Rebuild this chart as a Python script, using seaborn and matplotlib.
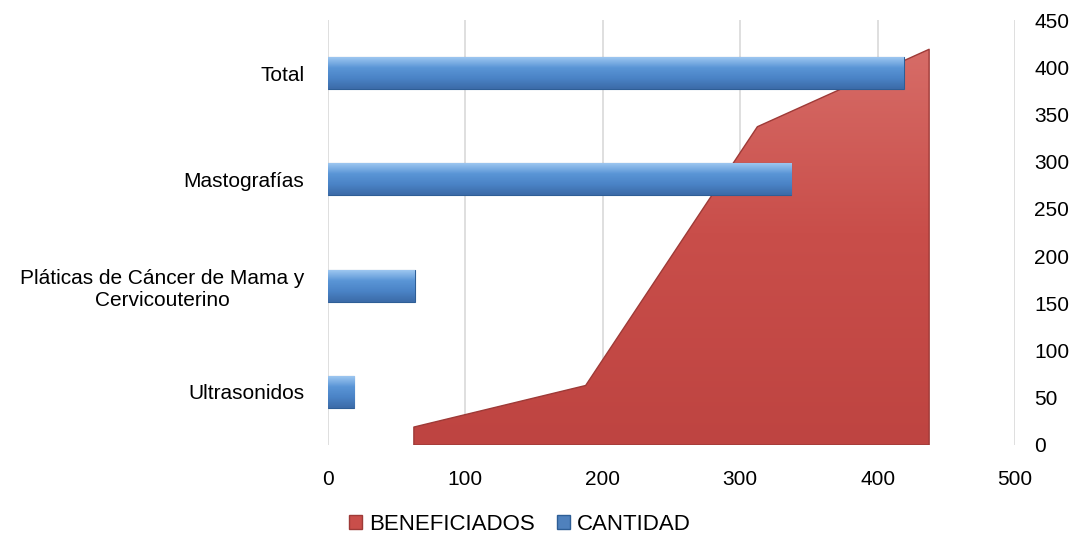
import numpy as np
import seaborn as sns
import matplotlib.pyplot as plt
from matplotlib.patches import Patch
from matplotlib.colors import LinearSegmentedColormap

# datos
categorias = ["Total", "Mastografías", "Pláticas de Cáncer de Mama y\nCervicouterino", "Ultrasonidos"]
cantidad = [419, 337, 63, 19]
# el area va de izquierda a derecha en orden inverso
orden_area = ["Ultrasonidos", "Pláticas", "Mastografías", "Total"]
beneficiados = [19, 63, 337, 419]

ticks_x = [0, 100, 200, 300, 400, 500]
ticks_y2 = [0, 50, 100, 150, 200, 250, 300, 350, 400, 450]

sns.set_theme(style="white")
plt.rcParams['font.family'] = ['Liberation Sans', 'DejaVu Sans']
plt.rcParams['text.color'] = '#000000'

fig = plt.figure(figsize=(10.86, 5.39), dpi=100)
pos = [328 / 1086, 1 - 445 / 539, (1015 - 328) / 1086, (445 - 20) / 539]

# capa de fondo: rejilla vertical
ax_grid = fig.add_axes(pos)
ax_grid.set_xlim(0, 500)
ax_grid.set_xticks(ticks_x)
ax_grid.set_yticks([])
ax_grid.grid(axis='x', color='#D9D9D9', lw=1.2)
ax_grid.tick_params(labelbottom=False, length=0)
for s in ax_grid.spines.values():
    s.set_visible(False)

# capa media: area BENEFICIADOS en ejes secundarios
ax_area = fig.add_axes(pos)
ax_area.patch.set_visible(False)
x_area = np.arange(len(orden_area))
poly = ax_area.fill_between(x_area, beneficiados, facecolor='none', edgecolor='#9E3A37', lw=1.0, zorder=3)
red_cmap = LinearSegmentedColormap.from_list("rojo", ["#BE4441", "#C94E4A", "#D9716C"])
img = ax_area.imshow(np.linspace(0, 1, 256).reshape(-1, 1), cmap=red_cmap, origin='lower',
                     extent=(-0.5, 3.5, 0, 450), aspect='auto', zorder=2)
img.set_clip_path(poly.get_paths()[0], poly.get_transform())
ax_area.set_xlim(-0.5, 3.5)
ax_area.set_ylim(0, 450)
ax_area.set_xticks([])
ax_area.yaxis.tick_right()
ax_area.set_yticks(ticks_y2)
ax_area.tick_params(axis='y', length=0, pad=14, labelsize=15, labelcolor='#000000')
for s in ax_area.spines.values():
    s.set_visible(False)

# capa superior: barras CANTIDAD
ax = fig.add_axes(pos, sharex=ax_grid)
ax.patch.set_visible(False)
sns.barplot(x=cantidad, y=categorias, orient='h', color='#4F81BD', saturation=1,
            width=0.3, edgecolor='#2E5E96', linewidth=0.8, ax=ax)
blue_cmap = LinearSegmentedColormap.from_list("azul", ["#9CC6F0", "#5A95D6", "#4A83C6", "#3C6BA8"])
grad = np.linspace(0, 1, 64).reshape(-1, 1)
for bar in ax.patches:
    x0, y0, w, h = bar.get_x(), bar.get_y(), bar.get_width(), bar.get_height()
    im = ax.imshow(grad, cmap=blue_cmap, origin='upper', extent=(x0, x0 + w, y0 + h, y0),
                   aspect='auto', zorder=bar.get_zorder() + 0.1)
    im.set_clip_path(bar)
ax.set_xlim(0, 500)
ax.set_ylim(3.5, -0.5)
ax.set_xticks(ticks_x)
ax.set_xlabel("")
ax.set_ylabel("")
ax.tick_params(axis='x', length=0, pad=18, labelsize=15, labelcolor='#000000')
ax.tick_params(axis='y', length=0, pad=17, labelsize=15, labelcolor='#000000')
for lab in ax.get_yticklabels():
    lab.set_horizontalalignment('right')
    lab.set_multialignment('center')
for s in ax.spines.values():
    s.set_visible(False)

handles = [Patch(facecolor='#C94E4A', edgecolor='#9E3A37'), Patch(facecolor='#4F81BD', edgecolor='#2E5E96')]
fig.legend(handles, ["BENEFICIADOS", "CANTIDAD"], loc='center', bbox_to_anchor=(520 / 1086, 1 - 524 / 539),
           ncol=2, frameon=False, fontsize=16, handlelength=0.6, handleheight=0.6,
           columnspacing=1.0, handletextpad=0.3, labelcolor='#000000')

fig.savefig("out.png", dpi=100)
